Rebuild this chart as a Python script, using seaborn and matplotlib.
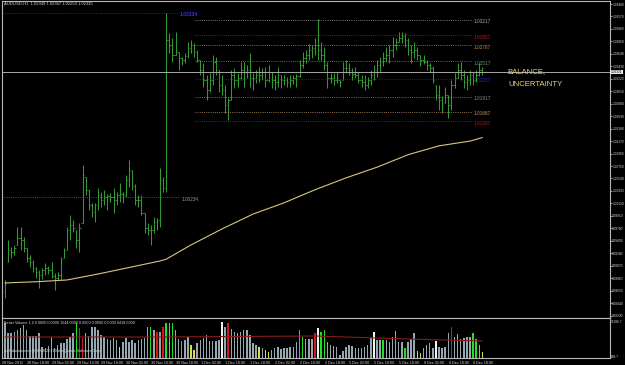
import numpy as np
import pandas as pd
import matplotlib
matplotlib.use("Agg")
import matplotlib.pyplot as plt
import seaborn as sns

# ---------------- data ----------------
high = [
    0.9883, 0.9950, 0.9938, 0.9942, 0.9972, 0.9972, 0.9955, 0.9937, 0.9925, 0.9917,
    0.9905, 0.9900, 0.9904, 0.9912, 0.9907, 0.9914, 0.9895, 0.9897, 0.9921, 0.9937,
    0.9972, 0.9993, 0.9984, 0.9967, 0.9979, 1.0077, 1.0056, 1.0035, 1.0013, 1.0013,
    1.0038, 1.0032, 1.0035, 1.0028, 1.0030, 1.0038, 1.0032, 1.0046, 1.0032, 1.0060,
    1.0085, 1.0068, 1.0044, 1.0027, 1.0027, 0.9996, 0.9979, 0.9976, 0.9989, 0.9988,
    1.0072, 1.0056, 1.0333, 1.0299, 1.0291, 1.0301, 1.0267, 1.0258, 1.0265, 1.0284,
    1.0287, 1.0282, 1.0270, 1.0254, 1.0249, 1.0229, 1.0232, 1.0262, 1.0258, 1.0237,
    1.0229, 1.0212, 1.0190, 1.0237, 1.0241, 1.0232, 1.0251, 1.0251, 1.0246, 1.0265,
    1.0232, 1.0237, 1.0242, 1.0241, 1.0242, 1.0246, 1.0234, 1.0229, 1.0242, 1.0229,
    1.0229, 1.0225, 1.0229, 1.0229, 1.0230, 1.0254, 1.0267, 1.0270, 1.0280, 1.0279,
    1.0291, 1.0322, 1.0284, 1.0275, 1.0251, 1.0232, 1.0232, 1.0234, 1.0220, 1.0251,
    1.0254, 1.0249, 1.0241, 1.0242, 1.0234, 1.0229, 1.0229, 1.0225, 1.0237, 1.0246,
    1.0254, 1.0258, 1.0267, 1.0275, 1.0279, 1.0292, 1.0291, 1.0301, 1.0301, 1.0299,
    1.0291, 1.0279, 1.0284, 1.0275, 1.0262, 1.0262, 1.0254, 1.0249, 1.0244, 1.0212,
    1.0212, 1.0193, 1.0208, 1.0195, 1.0220, 1.0232, 1.0249, 1.0251, 1.0237, 1.0229,
    1.0237, 1.0234, 1.0237, 1.0249, 1.0242]
low = [
    0.9853, 0.9914, 0.9920, 0.9925, 0.9942, 0.9933, 0.9930, 0.9914, 0.9905, 0.9897,
    0.9887, 0.9870, 0.9885, 0.9892, 0.9893, 0.9887, 0.9866, 0.9883, 0.9883, 0.9920,
    0.9933, 0.9950, 0.9964, 0.9937, 0.9930, 0.9979, 1.0027, 1.0001, 0.9989, 0.9981,
    1.0001, 1.0006, 1.0010, 1.0001, 1.0015, 0.9996, 1.0010, 1.0015, 1.0013, 1.0022,
    1.0039, 1.0035, 1.0010, 1.0006, 0.9993, 0.9962, 0.9959, 0.9942, 0.9962, 0.9967,
    0.9972, 1.0032, 1.0032, 1.0265, 1.0251, 1.0262, 1.0237, 1.0246, 1.0249, 1.0257,
    1.0265, 1.0258, 1.0251, 1.0229, 1.0208, 1.0186, 1.0200, 1.0212, 1.0229, 1.0200,
    1.0195, 1.0164, 1.0153, 1.0186, 1.0207, 1.0208, 1.0220, 1.0208, 1.0224, 1.0208,
    1.0203, 1.0215, 1.0217, 1.0220, 1.0208, 1.0217, 1.0207, 1.0203, 1.0208, 1.0207,
    1.0212, 1.0208, 1.0208, 1.0213, 1.0208, 1.0225, 1.0241, 1.0249, 1.0254, 1.0257,
    1.0262, 1.0254, 1.0254, 1.0237, 1.0207, 1.0215, 1.0212, 1.0215, 1.0208, 1.0220,
    1.0232, 1.0229, 1.0220, 1.0224, 1.0215, 1.0208, 1.0203, 1.0207, 1.0212, 1.0220,
    1.0225, 1.0234, 1.0244, 1.0251, 1.0249, 1.0258, 1.0270, 1.0284, 1.0282, 1.0275,
    1.0262, 1.0249, 1.0257, 1.0254, 1.0244, 1.0247, 1.0237, 1.0234, 1.0215, 1.0186,
    1.0169, 1.0164, 1.0181, 1.0156, 1.0169, 1.0207, 1.0224, 1.0220, 1.0207, 1.0203,
    1.0212, 1.0212, 1.0217, 1.0227, 1.0229]
close = [
    0.9876, 0.9933, 0.9930, 0.9937, 0.9954, 0.9950, 0.9937, 0.9920, 0.9914, 0.9904,
    0.9897, 0.9892, 0.9900, 0.9904, 0.9900, 0.9890, 0.9887, 0.9892, 0.9917, 0.9933,
    0.9967, 0.9976, 0.9971, 0.9950, 0.9971, 1.0060, 1.0035, 1.0010, 0.9998, 1.0010,
    1.0027, 1.0018, 1.0022, 1.0025, 1.0022, 1.0018, 1.0027, 1.0028, 1.0027, 1.0051,
    1.0068, 1.0041, 1.0018, 1.0018, 0.9996, 0.9971, 0.9967, 0.9967, 0.9981, 0.9984,
    1.0051, 1.0038, 1.0287, 1.0279, 1.0262, 1.0270, 1.0257, 1.0254, 1.0260, 1.0274,
    1.0279, 1.0267, 1.0254, 1.0237, 1.0220, 1.0203, 1.0220, 1.0251, 1.0237, 1.0212,
    1.0203, 1.0178, 1.0186, 1.0229, 1.0220, 1.0224, 1.0237, 1.0234, 1.0237, 1.0224,
    1.0224, 1.0229, 1.0229, 1.0234, 1.0220, 1.0234, 1.0220, 1.0217, 1.0229, 1.0220,
    1.0220, 1.0217, 1.0220, 1.0224, 1.0227, 1.0246, 1.0257, 1.0262, 1.0270, 1.0274,
    1.0279, 1.0270, 1.0262, 1.0246, 1.0224, 1.0224, 1.0220, 1.0224, 1.0217, 1.0241,
    1.0241, 1.0237, 1.0230, 1.0229, 1.0220, 1.0217, 1.0212, 1.0220, 1.0229, 1.0237,
    1.0246, 1.0251, 1.0257, 1.0262, 1.0270, 1.0279, 1.0284, 1.0291, 1.0294, 1.0287,
    1.0270, 1.0267, 1.0270, 1.0262, 1.0254, 1.0251, 1.0246, 1.0241, 1.0220, 1.0195,
    1.0186, 1.0178, 1.0195, 1.0178, 1.0212, 1.0224, 1.0237, 1.0229, 1.0217, 1.0220,
    1.0229, 1.0220, 1.0229, 1.0237, 1.0233]
first_open = 0.9862

ma_idx = [0, 10, 20, 25, 30, 40, 50, 52, 60, 70, 80, 90, 100, 110, 120, 130, 140, 150, 154]
ma_val = [0.9878, 0.9880, 0.9883, 0.9888, 0.9893, 0.9904, 0.9915, 0.9918, 0.9942, 0.9969,
          0.9994, 1.0013, 1.0035, 1.0055, 1.0073, 1.0094, 1.0109, 1.0117, 1.0123]

volume = [
    10680, 7660, 7660, 7960, 8570, 9170, 10080, 8570, 6750, 6750,
    6750, 7660, 3420, 3120, 3730, 6450, 3120, 4030, 4630, 4630,
    5840, 6450, 7660, 10680, 9170, 6150, 7660, 6750, 9470, 9470,
    8570, 7050, 6450, 5840, 5540, 6150, 5540, 3420, 4940, 6150,
    4940, 5540, 4630, 5540, 5840, 6150, 9470, 9470, 8570, 7960,
    7960, 9470, 10680, 10680, 10680, 8570, 5840, 5240, 5540, 6450,
    4030, 2520, 4630, 5540, 6150, 7050, 5240, 5240, 5240, 5540,
    10990, 9470, 10680, 8870, 7960, 7660, 7960, 8570, 8570, 7050,
    4630, 4030, 3420, 3120, 2520, 1910, 2520, 3120, 3420, 2820,
    3120, 3120, 3420, 3420, 4940, 8570, 6450, 5840, 5840, 5840,
    7660, 9170, 7960, 8570, 4940, 4030, 3730, 3420, 1000, 2210,
    3420, 4030, 3730, 3120, 3120, 3120, 3420, 4030, 6150, 7960,
    5540, 5540, 5540, 5540, 4940, 6450, 8260, 4940, 4940, 3120,
    4940, 5840, 7660, 2210, 1610, 3120, 4030, 4630, 3120, 5240,
    3420, 3120, 3420, 7660, 9470, 6450, 7360, 5840, 6150, 6450,
    6450, 7660, 5840, 4030, 1910]
vol_kind = list(
    "nnnnnnnnnn" "nnnnnnnnnn" "nnnGRRnnnn" "nnnnnnnYnn" "nnnnnnnGnR"
    "nRGnGnnGnn" "YYnnnnnnnn" "WnRnnnnnnn" "nnYnYYnnnn" "nnnnnGGnnn"
    "RWGGnnnnnn" "nnnnnnnnnW" "nnGnnnnnnG" "nnnYYnnnnW" "nnnnRnnnnn" "nGGnY")
vol_ma_idx = [0, 50, 100, 130, 154]
vol_ma_val = [6450, 6450, 6750, 5840, 5240]

level_prices = [1.03217, 1.02957, 1.02787, 1.02517, 1.02217, 1.01917, 1.01667, 1.01507]
level_labels = ["1.03217", "1.02957", "1.02787", "1.02517", "1.02217", "1.01917", "1.01667", "1.01507"]
level_colors = ["#a8a8a8", "#c01818", "#d08a40", "#6f9a6f", "#2a2ad8", "#7a9a7a", "#c89a60", "#c01818"]
level_span = (61.3, 150.3)

high_mark = 1.03334
low_mark = 1.00234
current_price = 1.02331

price_ticks = [0.98230, 0.98440, 0.98650, 0.98860, 0.99070, 0.99280, 0.99490, 0.99700,
               0.99910, 1.00120, 1.00330, 1.00540, 1.00750, 1.00960, 1.01170, 1.01380,
               1.01590, 1.01800, 1.02010, 1.02220, 1.02430, 1.02640, 1.02850, 1.03060,
               1.03270, 1.03480]
vol_ticks = [698.7, 11286.7]
date_labels = ["28 Nov 2011", "28 Nov 18:00", "29 Nov 02:00", "29 Nov 10:00", "29 Nov 18:00",
               "30 Nov 02:00", "30 Nov 10:00", "30 Nov 18:00", "1 Dec 02:00", "1 Dec 10:00",
               "1 Dec 18:00", "2 Dec 02:00", "2 Dec 10:00", "2 Dec 18:00", "5 Dec 02:00",
               "5 Dec 10:00", "5 Dec 18:00", "6 Dec 02:00", "6 Dec 10:00", "6 Dec 18:00"]
bars_per_label = 8

# ---------------- styling ----------------
sns.set_theme(style="dark")
plt.rcParams["font.family"] = ["Liberation Sans", "DejaVu Sans"]

W, H = 625, 365
fig = plt.figure(figsize=(6.25, 3.65), dpi=100, facecolor="black")

def fx(x):
    return x / W

def fy(y):
    return 1 - y / H

ax = fig.add_axes([fx(2), fy(318), fx(608), 317 / H])
axv = fig.add_axes([fx(2), fy(358), fx(608), 40 / H])

SPINE = "#b8b8b8"
TXT = "#d8d8d8"
SMALL = 2.7
RIGHT = 2.35
for a in (ax, axv):
    a.set_facecolor("black")
    for s in a.spines.values():
        s.set_color(SPINE)
        s.set_linewidth(0.8)
    a.grid(False)

n = len(high)
idx = np.arange(n)
df = pd.DataFrame({"i": idx, "high": high, "low": low, "close": close})
opens = np.array([first_open] + close[:-1])
opens = np.clip(opens, df["low"].values, df["high"].values)

# price bars (OHLC)
BAR = "#339a33"
ax.vlines(df["i"], df["low"], df["high"], color=BAR, lw=0.75)
ax.hlines(opens, df["i"] - 0.45, df["i"], color=BAR, lw=0.6)
ax.hlines(df["close"], df["i"], df["i"] + 0.45, color=BAR, lw=0.6)

# moving average
sns.lineplot(x=ma_idx, y=ma_val, ax=ax, color="#d8c67c", lw=0.8)

# current price line
ax.axhline(current_price, color="#a8a8a8", lw=0.7)

# range levels
for p, lab, c in zip(level_prices, level_labels, level_colors):
    ax.hlines(p, level_span[0], level_span[1], colors=c, lw=0.6, linestyles=(0, (1, 1.6)))
    ax.text(level_span[1] + 0.8, p + 0.00008, lab, color=c, fontsize=3.4, va="top", ha="left")

# top and bottom marks of the earlier range
ax.hlines(high_mark, -1, 56, colors="#2a2ad0", lw=0.7, linestyles=(0, (1, 1.6)))
ax.text(56.5, high_mark + 0.0001, f"{high_mark:.5f}", color="#3535e0", fontsize=3.6,
        va="top", ha="left", fontweight="bold")
ax.hlines(low_mark, -1, 56, colors="#6a6a58", lw=0.6, linestyles=(0, (1, 1.6)))
ax.text(57, low_mark - 0.0001, f"{low_mark:.5f}", color="#9a9a9a", fontsize=3.4,
        va="top", ha="left")

x_left = (2 - 5) / 3.1
x_right = (610 - 5) / 3.1
ax.set_xlim(x_left, x_right)
ax.set_ylim(1.035474 - 0.0001685 * 318, 1.035474 - 0.0001685 * 1)
ax.set_xticks([])
ax.yaxis.tick_right()
ax.set_yticks(price_ticks)
ax.set_yticklabels([f"{t:.5f}" for t in price_ticks])
ax.tick_params(axis="y", colors=TXT, labelsize=RIGHT, length=1.2, width=0.5, pad=0.4)
ax.set_xlabel("")
ax.set_ylabel("")

# current price box on the right scale
ax.text(1.001, current_price, f"{current_price:.5f}", transform=ax.get_yaxis_transform(),
        fontsize=RIGHT, color="black", va="center", ha="left", clip_on=False,
        bbox=dict(facecolor="#e8e8e8", edgecolor="none", pad=0.2))

# volume panel
palette = {"n": "#93a8b1", "G": "#22e022", "R": "#d81818", "Y": "#e2dc3c", "W": "#f2f2f2"}
axv.bar(idx, volume, width=0.5, color=[palette[k] for k in vol_kind], linewidth=0)
sns.lineplot(x=vol_ma_idx, y=vol_ma_val, ax=axv, color="#8a1a1a", lw=0.8)
axv.set_xlim(x_left, x_right)
axv.set_ylim(700 + 302.5 * (356 - 358), 700 + 302.5 * (356 - 318))
axv.yaxis.tick_right()
axv.set_yticks(vol_ticks)
axv.set_yticklabels(["698.7", "11286.7"])
axv.tick_params(axis="y", colors=TXT, labelsize=RIGHT, length=0, pad=0.8)
date_pos = [k * bars_per_label - 0.9 for k in range(len(date_labels))]
axv.set_xticks(date_pos)
axv.set_xticklabels(date_labels, ha="left")
axv.tick_params(axis="x", colors=TXT, labelsize=SMALL, length=2, width=0.5, pad=0.4)
axv.set_xlabel("")
axv.set_ylabel("")

axv.text(0.004, 0.93, "Better Volume 1.4 0.0000 0.0000 1544.0000 0.0000 0.0000 0.0000 6418.0000",
         transform=axv.transAxes, fontsize=SMALL, color=TXT, va="top", ha="left")
axv.text(0.004, 0.12, "(c) Education.ru @ 2008-2011 MetaQuotes Software Corp.",
         transform=axv.transAxes, fontsize=SMALL, color=TXT, va="bottom", ha="left")

# header and annotation
fig.text(fx(4), fy(4), "AUDUSD,H1  1.02349 1.02367 1.02250 1.02335", fontsize=3.0,
         color=TXT, va="center", ha="left")
fig.text(fx(507), fy(72), "BALANCE,", fontsize=5.6, color="#e6d27a", va="center", ha="left")
fig.text(fx(508), fy(85), "UNCERTAINTY", fontsize=5.6, color="#e6d27a", va="center", ha="left")

fig.savefig("out.png", dpi=100, facecolor="black")
